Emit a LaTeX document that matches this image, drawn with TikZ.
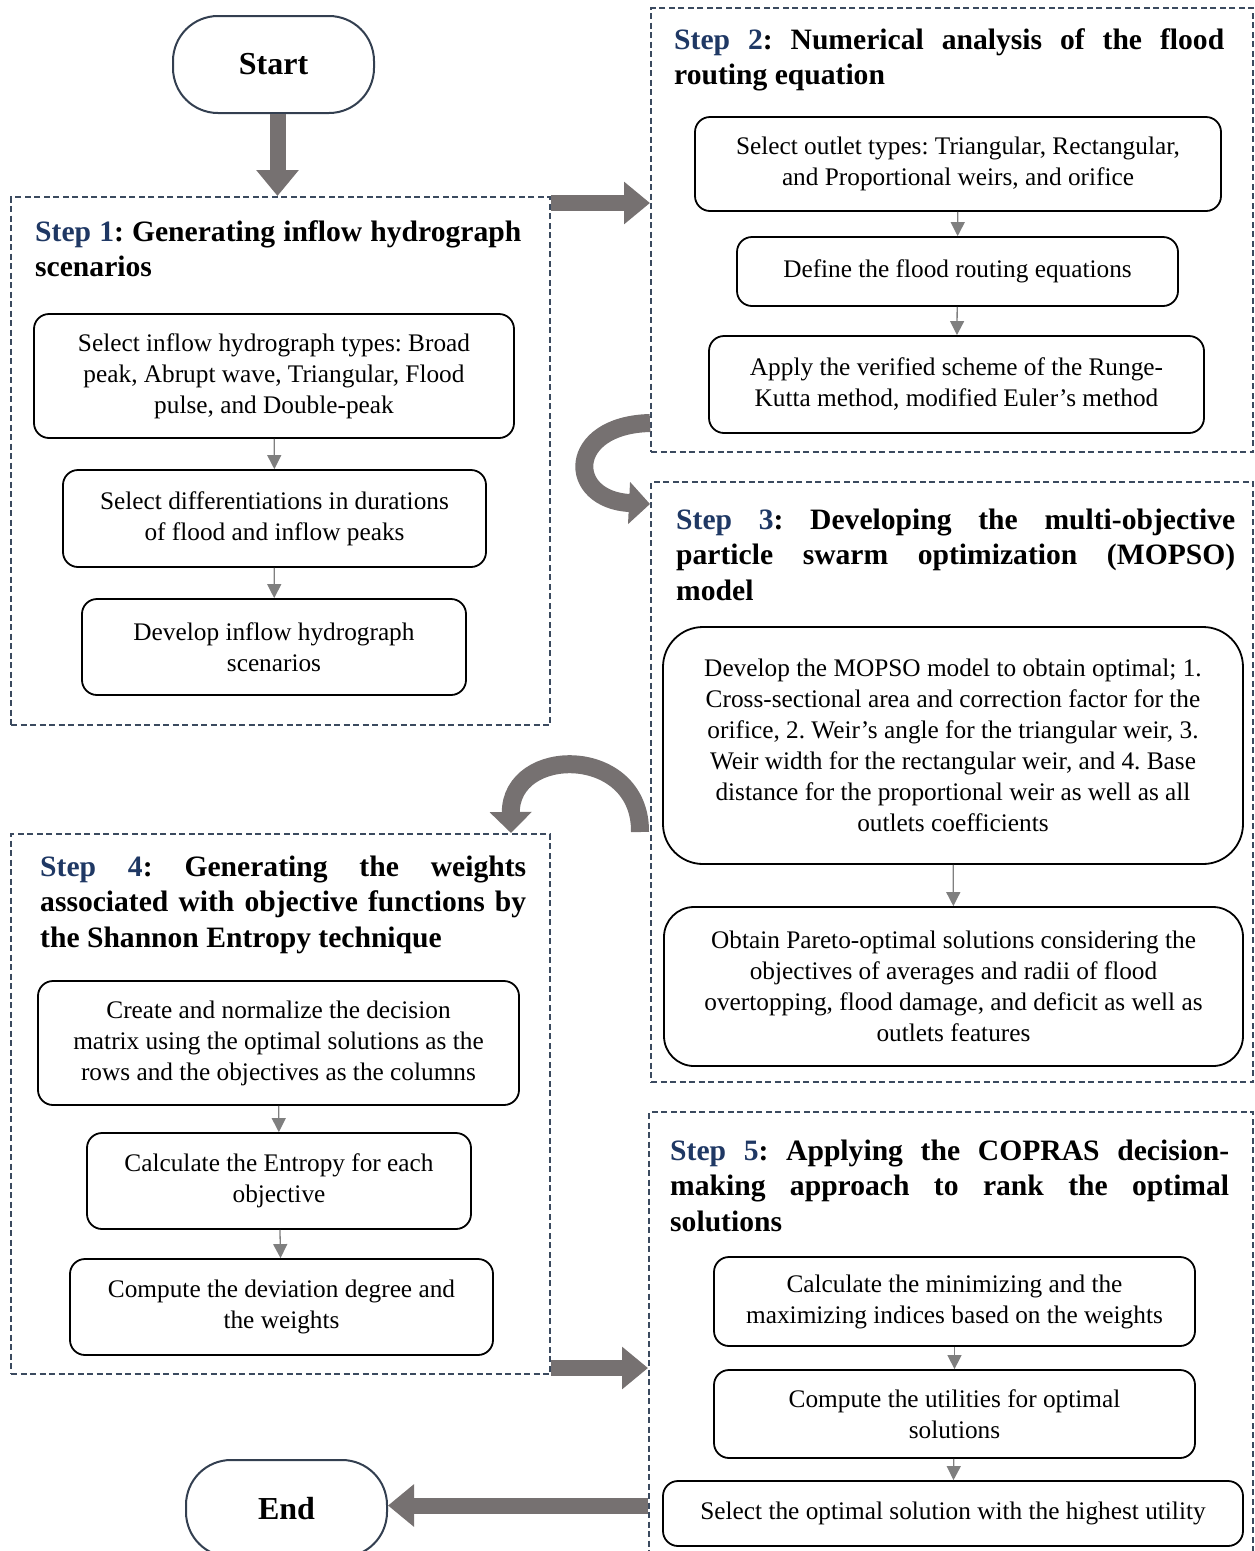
\documentclass[tikz,border=0pt]{standalone}
\usepackage{fontspec}
\setmainfont{Liberation Serif}
\usetikzlibrary{arrows.meta}
\definecolor{stepblue}{HTML}{1F3864}
\definecolor{dashgray}{HTML}{3B4A5F}
\definecolor{termgray}{HTML}{333F50}
\definecolor{arrowgray}{HTML}{767171}
\definecolor{flowgray}{HTML}{7F7F7F}
\newcommand{\stepno}[1]{\textcolor{stepblue}{Step #1}}
\frenchspacing

\begin{document}
\begin{tikzpicture}[x=1pt,y=-1pt]
\tikzstyle{stepbox}=[draw=dashgray,line width=2pt,dash pattern=on 6pt off 3.5pt,inner sep=0pt];
\tikzstyle{title}=[anchor=base west,align=justify,inner sep=0pt,font=\fontsize{29.6}{35.5}\selectfont\bfseries];
\tikzstyle{box}=[draw,line width=1.8pt,rounded corners=15pt,align=center,inner sep=0pt,font=\fontsize{25.3}{31}\selectfont];
\tikzstyle{terminal}=[draw=termgray,line width=2pt,rounded corners=45pt,minimum width=201pt,minimum height=97pt,font=\fontsize{32}{38}\selectfont\bfseries];
\tikzstyle{bigarrow}=[draw=arrowgray,line width=16pt,-{Triangle[width=41pt,length=26pt]}];
\tikzstyle{bendarrow}=[draw=arrowgray,line width=18pt,-{Triangle[width=41pt,length=21pt]}];
\tikzstyle{flow}=[draw=flowgray,line width=1.3pt,-{Triangle[width=14pt,length=14pt]}];
\useasboundingbox (0,0) rectangle (1255,1551);

\node [terminal] (start) at (273.5,64.5) {Start};
\node [terminal] (end) at (286.5,1508.5) {End};

\node [stepbox,minimum width=539pt,minimum height=528pt] (s1) at (280.5,461) {};
\node [title,text width=486pt] (t1) at (35,241) {\stepno{1}: Generating inflow hydrograph\linebreak scenarios};
\node [box,minimum width=480pt,minimum height=124pt] (b11) at (274,376) {Select inflow hydrograph types: Broad\\peak, Abrupt wave, Triangular, Flood\\pulse, and Double-peak};
\node [box,minimum width=423pt,minimum height=97pt] (b12) at (274.5,518.5) {Select differentiations in durations\\of flood and inflow peaks};
\node [box,minimum width=384pt,minimum height=96pt] (b13) at (274,647) {Develop inflow hydrograph\\scenarios};

\node [stepbox,minimum width=602pt,minimum height=444pt] (s2) at (952,230) {};
\node [title,text width=550pt] (t2) at (674,49) {\stepno{2}: Numerical analysis of the flood\linebreak routing equation};
\node [box,minimum width=526pt,minimum height=94pt] (b21) at (958,164) {Select outlet types: Triangular, Rectangular,\\and Proportional weirs, and orifice};
\node [box,minimum width=441pt,minimum height=69pt] (b22) at (957.5,271.5) {Define the flood routing equations};
\node [box,minimum width=495pt,minimum height=97pt] (b23) at (956.5,384.5) {Apply the verified scheme of the Runge-\\Kutta method, modified Euler’s method};

\node [stepbox,minimum width=602pt,minimum height=600pt] (s3) at (952,782) {};
\node [title,text width=559pt] (t3) at (676,529) {\stepno{3}: Developing the multi-objective\linebreak particle swarm optimization (MOPSO)\linebreak model};
\node [box,rounded corners=40pt,minimum width=580pt,minimum height=237pt] (b31) at (953,745.5) {Develop the MOPSO model to obtain optimal; 1.\\Cross-sectional area and correction factor for the\\orifice, 2. Weir’s angle for the triangular weir, 3.\\Weir width for the rectangular weir, and 4. Base\\distance for the proportional weir as well as all\\outlets coefficients};
\node [box,rounded corners=30pt,minimum width=579pt,minimum height=159pt] (b32) at (953.5,986.5) {Obtain Pareto-optimal solutions considering the\\objectives of averages and radii of flood\\overtopping, flood damage, and deficit as well as\\outlets features};

\node [stepbox,minimum width=539pt,minimum height=540pt] (s4) at (280.5,1104) {};
\node [title,text width=486pt] (t4) at (40,876) {\stepno{4}: Generating the weights\linebreak associated with objective functions by\linebreak the Shannon Entropy technique};
\node [box,minimum width=481pt,minimum height=124pt] (b41) at (278.5,1043) {Create and normalize the decision\\matrix using the optimal solutions as the\\rows and the objectives as the columns};
\node [box,minimum width=384pt,minimum height=96pt] (b42) at (279,1181) {Calculate the Entropy for each\\objective};
\node [box,minimum width=423pt,minimum height=96pt] (b43) at (281.5,1307) {Compute the deviation degree and\\the weights};

\node [stepbox,minimum width=604pt,minimum height=463pt] (s5) at (951,1343.5) {};
\node [title,text width=559pt] (t5) at (670,1160) {\stepno{5}: Applying the COPRAS decision-\linebreak making approach to rank the optimal\linebreak solutions};
\node [box,minimum width=481pt,minimum height=89pt] (b51) at (954.5,1301.5) {Calculate the minimizing and the\\maximizing indices based on the weights};
\node [box,minimum width=481pt,minimum height=88pt] (b52) at (954.5,1414) {Compute the utilities for optimal\\solutions};
\node [box,minimum width=580pt,minimum height=65pt] (b53) at (953,1513.5) {Select the optimal solution with the highest utility};

\draw [flow] (b11) -- (b12);
\draw [flow] (b12) -- (b13);
\draw [flow] (b21) -- (b22);
\draw [flow] (b22) -- (b23);
\draw [flow] (b31) -- (b32);
\draw [flow] (b41) -- (b42);
\draw [flow] (b42) -- (b43);
\draw [flow] (b51) -- (b52);
\draw [flow] (b52) -- (b53);

\draw [bigarrow] ([xshift=4pt]start.south) -- ([xshift=4pt]start.south |- s1.north);
\draw [bigarrow] ([yshift=-7pt]s1.north east) -- ([yshift=-7pt]s1.north east -| s2.west);
\draw [bigarrow] ([yshift=7pt]s4.south east) -- ([yshift=7pt]s4.south east -| s5.west);
\draw [bigarrow] ([yshift=3pt]end.east -| s5.west) -- ([yshift=3pt]end.east);
\draw [bendarrow] ([yshift=30pt]s2.south west) .. controls (566,425) and (566,500) .. ([yshift=-23pt]s3.north west);
\draw [bendarrow] ([xshift=-10pt,yshift=-50pt]s3.west) .. controls (641,745) and (510,745) .. ([xshift=-40pt]s4.north east);
\end{tikzpicture}
\end{document}
